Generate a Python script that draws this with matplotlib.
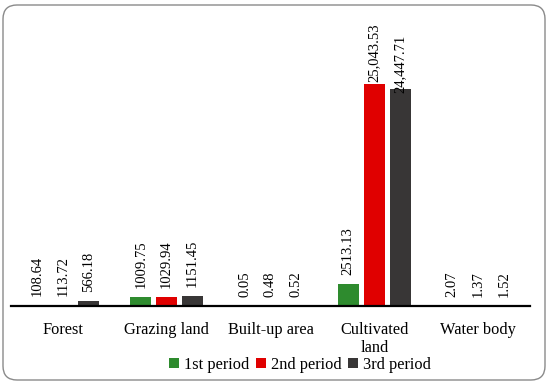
import matplotlib
matplotlib.use("Agg")
import matplotlib.pyplot as plt
import matplotlib.transforms as mtransforms
from matplotlib.patches import FancyBboxPatch
import numpy as np

categorias = ["Forest", "Grazing land", "Built-up area", "Cultivated\nland", "Water body"]
periodo_1 = [108.64, 1009.75, 0.05, 2513.13, 2.07]
periodo_2 = [113.72, 1029.94, 0.48, 25043.53, 1.37]
periodo_3 = [566.18, 1151.45, 0.52, 24447.71, 1.52]
etiquetas_1 = ["108.64", "1009.75", "0.05", "2513.13", "2.07"]
etiquetas_2 = ["113.72", "1029.94", "0.48", "25,043.53", "1.37"]
etiquetas_3 = ["566.18", "1151.45", "0.52", "24,447.71", "1.52"]
nombres = ["1st period", "2nd period", "3rd period"]

colores = ["#2e8b2e", "#e00000", "#383636"]

plt.rcParams["font.family"] = ["Liberation Serif", "DejaVu Serif"]

fig = plt.figure(figsize=(5.5, 3.85), dpi=100)
ax = fig.add_axes([11 / 550, 79 / 385, 519 / 550, 286 / 385])

x = np.arange(len(categorias))
ancho = 0.2
paso = 0.25

series = [periodo_1, periodo_2, periodo_3]
etiquetas = [etiquetas_1, etiquetas_2, etiquetas_3]
for i in range(3):
    barras = ax.bar(x + (i - 1) * paso, series[i], width=ancho, color=colores[i],
                    label=nombres[i])
    for j, b in enumerate(barras):
        v = series[i][j]
        # excel squeezes the two tall labels against the bar top
        if v > 25000:
            off = 1.5
        elif v > 20000:
            off = -3
        else:
            off = 6.5
        ax.annotate(etiquetas[i][j], (b.get_x() + b.get_width() / 2, v),
                    xytext=(0, off), textcoords="offset points",
                    rotation=90, ha="center", va="bottom", fontsize=10.5,
                    annotation_clip=False)

ax.set_xlim(-0.5, len(categorias) - 0.5)
ax.set_ylim(0, max(periodo_2) * 286 / 222)
ax.set_xticks(x)
ax.set_xticklabels(categorias, fontsize=11.8, linespacing=1.2)
ax.tick_params(axis="x", length=0, pad=11.5)
ax.set_yticks([])
for s in ["top", "left", "right"]:
    ax.spines[s].set_visible(False)
ax.spines["bottom"].set_linewidth(1.6)

fig.legend(loc="center", bbox_to_anchor=(300 / 550, 1 - 365 / 385), ncol=3,
           frameon=False, fontsize=11.8, handlelength=0.6, handleheight=0.6,
           handletextpad=0.3, columnspacing=0.4, borderpad=0)

marco = FancyBboxPatch((3, 5), 542, 375, boxstyle="round,pad=0,rounding_size=14",
                       transform=mtransforms.IdentityTransform(),
                       facecolor="none", edgecolor="#8a8a8a", linewidth=1.0)
fig.patches.append(marco)

fig.savefig("out.png", dpi=100)
